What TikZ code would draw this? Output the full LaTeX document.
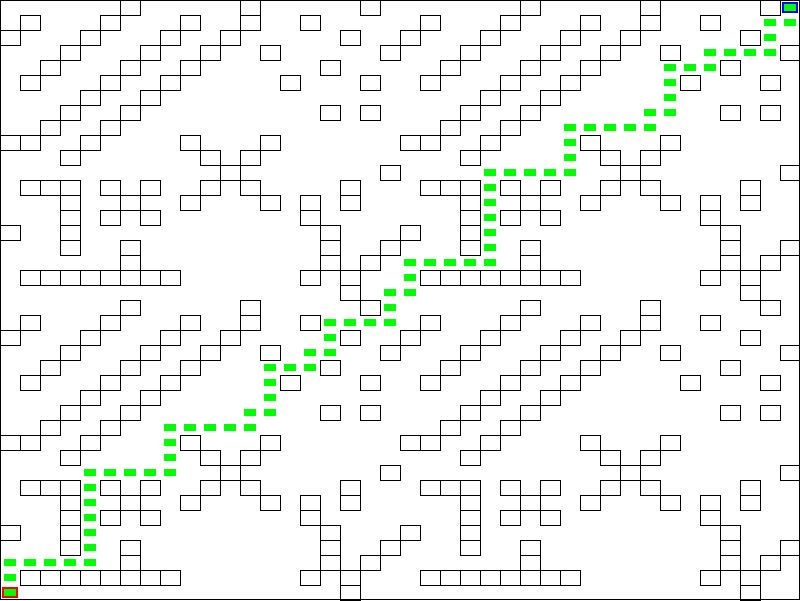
\documentclass[tikz,border=0pt]{standalone}
\usepackage{xcolor}
\usepackage{tikz}
\usetikzlibrary{calc}

\definecolor{routegreen}{RGB}{0,255,0}
\definecolor{startred}{RGB}{255,0,0}
\definecolor{goalblue}{RGB}{0,0,255}

\begin{document}
\begin{tikzpicture}[x=1pt,y=-1pt,line width=1pt]
			\def\w{20};
			\def\h{15};
			% one 20 by 20 block of walls, column/row
			\def\blocks{6/0,12/0,18/0,%
				1/1,5/1,9/1,12/1,15/1,%
				0/2,4/2,8/2,11/2,17/2,%
				3/3,7/3,10/3,13/3,19/3,%
				2/4,6/4,9/4,16/4,%
				1/5,5/5,8/5,14/5,18/5,%
				4/6,7/6,%
				3/7,6/7,16/7,18/7,%
				2/8,5/8,%
				0/9,1/9,4/9,9/9,13/9,%
				3/10,10/10,12/10,%
				11/11,19/11,%
				1/12,2/12,3/12,5/12,7/12,10/12,12/12,17/12,%
				3/13,6/13,9/13,13/13,15/13,17/13,%
				3/14,5/14,7/14,15/14,%
				0/15,3/15,16/15,%
				3/16,6/16,16/16,19/16,%
				6/17,16/17,18/17,%
				1/18,2/18,3/18,4/18,5/18,6/18,7/18,8/18,15/18,17/18,%
				17/19};
			% the route through one block, the same in both blocks up to row 3
			\def\route{0/19,0/18,0/17,1/17,2/17,3/17,4/17,%
				4/16,4/15,4/14,4/13,4/12,4/11,5/11,6/11,7/11,8/11,%
				8/10,8/9,8/8,9/8,10/8,11/8,12/8,12/7,13/7,%
				13/6,13/5,13/4,14/4,15/4,15/3,16/3,19/1,19/0};
			\def\lowerend{16/2,16/1,17/1,18/1};
			\def\upperend{17/3,18/3,18/2,18/1};

			\coordinate (top left) at (0,0);
			\coordinate (bottom right) at (40*\w,40*\h);
			\coordinate (start cell) at (0,39*\h);
			\coordinate (goal cell) at (39*\w,0);
			\coordinate (middle cell) at (19*\w,19*\h);

			\useasboundingbox (top left) rectangle (bottom right);
			\fill [white] (top left) rectangle (bottom right);

			\foreach \tx/\ty in {0/0,20/0,0/20,20/20} {
				\begin{scope}[shift={(\tx*\w+0.5,\ty*\h+0.5)}]
					\foreach \c/\r in \blocks {
						\draw (\c*\w,\r*\h) rectangle ++(\w,\h);
					}
				\end{scope}
			}

			\begin{scope}[routegreen]
				\begin{scope}[shift={(0,20*\h)}]
					\foreach \c/\r in \route {
						\fill (\c*\w+4,\r*\h+4) rectangle ++(12,7);
					}
					\foreach \c/\r in \lowerend {
						\fill (\c*\w+4,\r*\h+4) rectangle ++(12,7);
					}
				\end{scope}
				\begin{scope}[shift={(20*\w,0)}]
					\foreach \c/\r in \route {
						\fill (\c*\w+4,\r*\h+4) rectangle ++(12,7);
					}
					\foreach \c/\r in \upperend {
						\fill (\c*\w+4,\r*\h+4) rectangle ++(12,7);
					}
				\end{scope}
				\fill ($ (middle cell) + (4,4) $) rectangle ++(12,7);
			\end{scope}

			\begin{scope}[line width=1.7pt]
				\draw [startred] ($ (start cell) + (3,3) $) rectangle ($ (start cell) + (17,12) $);
				\draw [goalblue] ($ (goal cell) + (3,3) $) rectangle ($ (goal cell) + (17,12) $);
			\end{scope}

			\draw ($ (top left) + (0.5,0.5) $) rectangle ($ (bottom right) + (-0.5,-0.5) $);
		\end{tikzpicture}
\end{document}
